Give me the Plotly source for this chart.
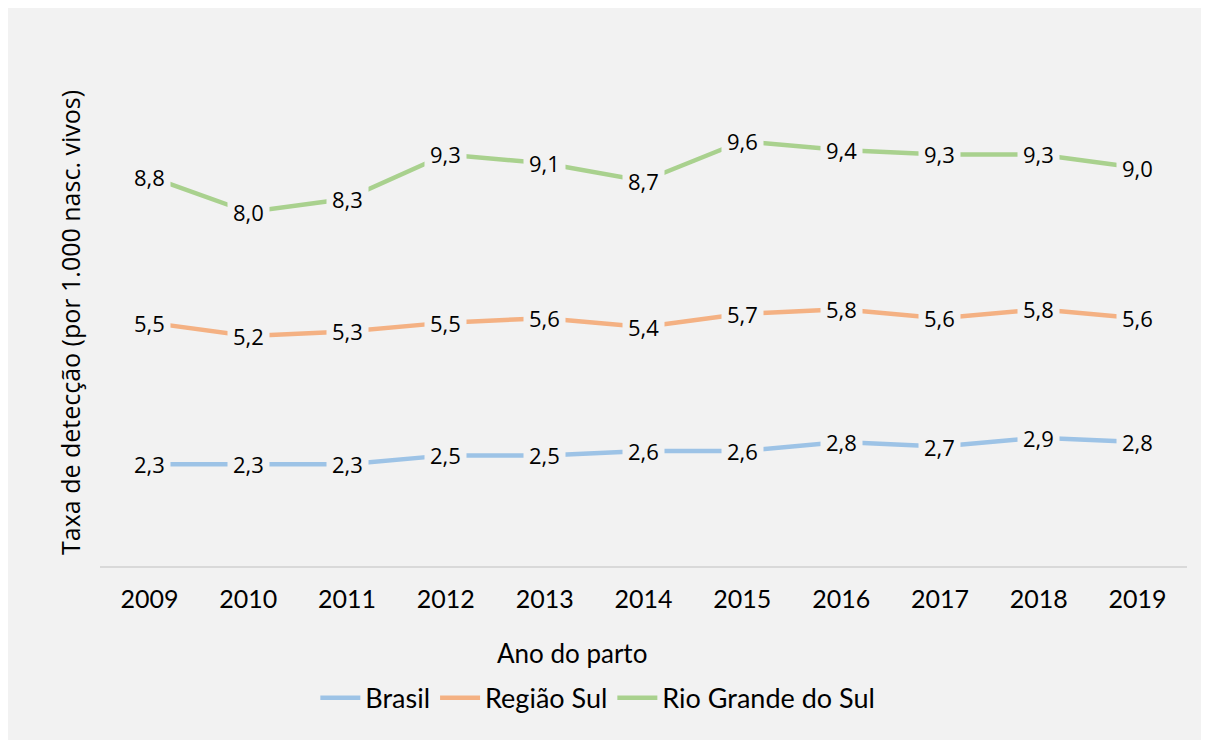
import plotly.graph_objects as go

years = ["2009", "2010", "2011", "2012", "2013", "2014", "2015", "2016", "2017", "2018", "2019"]
brasil = [2.3, 2.3, 2.3, 2.5, 2.5, 2.6, 2.6, 2.8, 2.7, 2.9, 2.8]
regiao_sul = [5.5, 5.2, 5.3, 5.5, 5.6, 5.4, 5.7, 5.8, 5.6, 5.8, 5.6]
rio_grande_sul = [8.8, 8.0, 8.3, 9.3, 9.1, 8.7, 9.6, 9.4, 9.3, 9.3, 9.0]

series_names = ["Brasil", "Região Sul", "Rio Grande do Sul"]
series_values = [brasil, regiao_sul, rio_grande_sul]
series_colors = ["#9dc3e6", "#f4b183", "#a9d18e"]

y_title = "Taxa de detecção (por 1.000 nasc. vivos)"
x_title = "Ano do parto"

PANEL = "#f2f2f2"

fig = go.Figure()
for name, vals, col in zip(series_names, series_values, series_colors):
    fig.add_trace(go.Scatter(
        x=years, y=vals, name=name, mode="lines",
        line=dict(color=col, width=4.5),
        hoverinfo="skip",
    ))

annotations = []
for vals in series_values:
    for i, v in enumerate(vals):
        annotations.append(dict(
            x=i, y=v, xref="x", yref="y",
            text=f"{v:.1f}".replace(".", ","),
            showarrow=False, bgcolor=PANEL, borderpad=5,
            font=dict(family="Open Sans", size=22, color="#000000"),
        ))

# axis titles
annotations.append(dict(
    x=-0.0276, y=0.4595, xref="paper", yref="paper",
    text=y_title, textangle=-90, showarrow=False,
    font=dict(family="Open Sans", size=25, color="#000000"),
    xanchor="center", yanchor="middle",
))
annotations.append(dict(
    x=0.434, y=-0.1638, xref="paper", yref="paper",
    text=x_title, showarrow=False,
    font=dict(family="Lato", size=26, color="#000000"),
    xanchor="center", yanchor="middle",
))

fig.update_layout(
    width=1209, height=740,
    margin=dict(l=92, r=30, t=27, b=182),
    paper_bgcolor=PANEL,
    plot_bgcolor=PANEL,
    showlegend=True,
    legend=dict(
        orientation="h", x=0.458, y=-0.249, xanchor="center", yanchor="middle",
        font=dict(family="Lato", size=27, color="#000000"),
        bgcolor="rgba(0,0,0,0)", itemwidth=40, tracegroupgap=0,
    ),
    annotations=annotations,
    xaxis=dict(
        type="category", range=[-0.5, 10.5],
        showline=True, linecolor="#d9d9d9", linewidth=1.5,
        showgrid=False, zeroline=False, ticks="",
        tickfont=dict(family="Lato", size=25, color="#000000"),
        ticklabelstandoff=10,
    ),
    yaxis=dict(
        range=[0, 12], showgrid=False, zeroline=False,
        showticklabels=False, showline=False, ticks="",
    ),
)

fig.write_html("out.html")
